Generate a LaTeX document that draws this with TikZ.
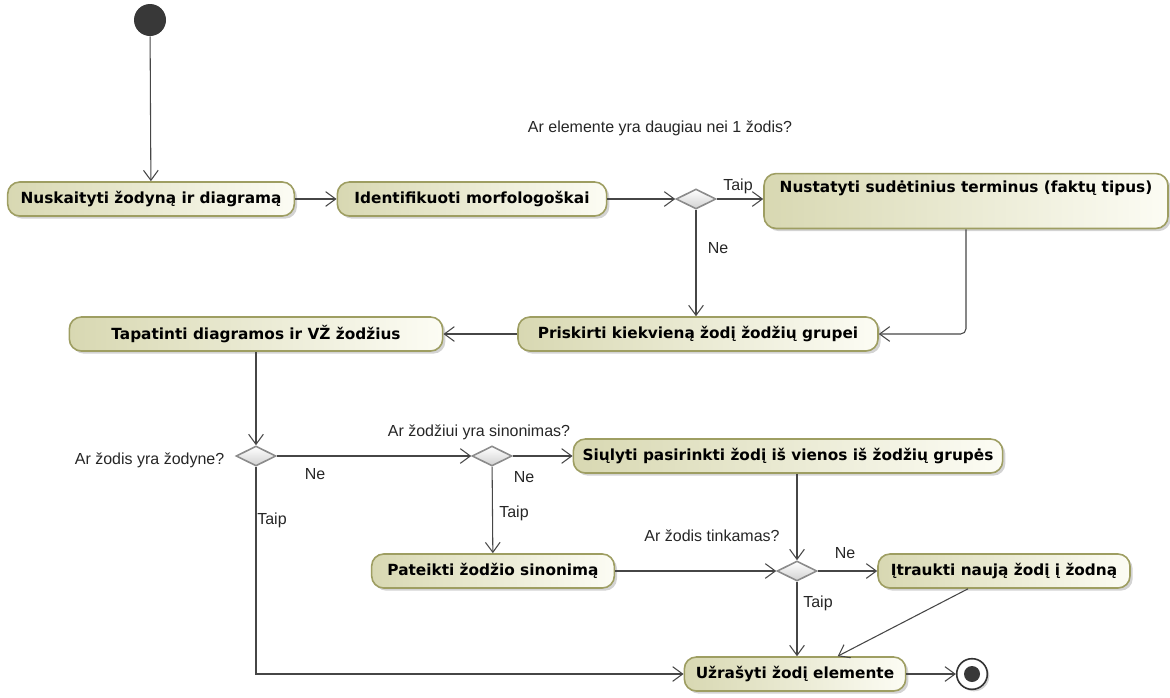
\documentclass[tikz,border=0pt]{standalone}
\usepackage{fontspec}
\setmainfont{Liberation Sans}
\newfontfamily\actfont{DejaVu Sans}
\usetikzlibrary{arrows.meta,shapes.geometric,shadows}

\definecolor{actleft}{RGB}{216,216,178}
\definecolor{actright}{RGB}{252,252,244}
\definecolor{actborder}{RGB}{158,158,98}
\definecolor{flowline}{RGB}{70,70,70}
\definecolor{dmborder}{RGB}{140,140,140}

\tikzset{
  action/.style={draw=actborder, line width=1.2pt, rounded corners=9pt,
    left color=actleft, right color=actright, minimum height=25.5pt,
    font=\actfont\fontsize{11.5pt}{13pt}\selectfont\bfseries,
    drop shadow={shadow xshift=2pt, shadow yshift=-2pt, opacity=.35}},
  decision/.style={diamond, draw=dmborder, line width=1.2pt, inner sep=0pt,
    minimum width=30pt, minimum height=15pt, top color=white, bottom color=black!18},
  flow/.style={draw=flowline, line width=.8pt,
    -{Straight Barb[length=7.5pt,width=11pt]}},
  lbl/.style={font=\fontsize{12pt}{14pt}\selectfont, text=black!85}
}

\begin{document}
\begin{tikzpicture}[x=0.75pt, y=-0.75pt]
  \useasboundingbox (0,0) rectangle (1170,697);

  \node[circle, fill=black!78, minimum size=24pt, inner sep=0pt] (start) at (150,20) {};

  \node[action, minimum width=215pt] (a1) at (151,199) {Nuskaityti žodyną ir diagramą};
  \node[action, minimum width=202pt] (a2) at (472,199) {Identifikuoti morfologoškai};
  \node[decision] (d1) at (696,199) {};
  \node[action, minimum width=303pt, minimum height=40.5pt,
        text height=10.5pt, text depth=24pt] (a3) at (966,201) {Nustatyti sudėtinius terminus (faktų tipus)};
  \node[action, minimum width=270pt] (a4) at (698,334) {Priskirti kiekvieną žodį žodžių grupei};
  \node[action, minimum width=280pt] (a5) at (256,334) {Tapatinti diagramos ir VŽ žodžius};
  \node[decision] (d2) at (256,456) {};
  \node[decision] (d3) at (492,456) {};
  \node[action, minimum width=322pt] (a6) at (788,456) {Siųlyti pasirinkti žodį iš vienos iš žodžių grupės};
  \node[action, minimum width=182pt] (a7) at (493,571) {Pateikti žodžio sinonimą};
  \node[decision] (d4) at (797,571) {};
  \node[action, minimum width=189pt] (a8) at (1004,571) {Įtraukti naują žodį į žodną};
  \node[action, minimum width=166pt] (a9) at (795,674) {Užrašyti žodį elemente};

  \node[circle, draw=black!80, line width=1.2pt, fill=white, minimum size=23pt, inner sep=0pt,
        drop shadow={shadow xshift=1.5pt, shadow yshift=-1.5pt, opacity=.35}] (stop) at (972,674) {};
  \fill[black!78] (stop) circle (6pt);

  \draw[flow] (start) -- (a1);
  \draw[flow] (a1) -- (a2);
  \draw[flow] (a2) -- (d1);
  \draw[flow] (d1) -- (a3.west |- d1);
  \draw[flow] (d1.south) -- (d1.south |- a4.north);
  \draw[flow, rounded corners=4pt] (a3.south) |- (a4.east);
  \draw[flow] (a4) -- (a5);
  \draw[flow] (a5) -- (d2);
  \draw[flow] (d2) -- (d3);
  \draw[flow] (d3) -- (a6);
  \draw[flow] (d3) -- (a7);
  \draw[flow] (d4.north |- a6.south) -- (d4.north);
  \draw[flow] (a7) -- (d4);
  \draw[flow] (d4) -- (a8);
  \draw[flow] (d4.south) -- (d4.south |- a9.north);
  \draw[flow] ([xshift=-27pt]a8.south) -- ([xshift=32pt]a9.north);
  \draw[flow] (d2.south) |- (a9.west);
  \draw[flow] (a9) -- (stop);

  \node[lbl] (q1) at (660,128) {Ar elemente yra daugiau nei 1 žodis?};
  \node[lbl] (y1) at (738,186) {Taip};
  \node[lbl] (n1) at (718,248) {Ne};
  \node[lbl, anchor=east] (q2) at (229,460) {Ar žodis yra žodyne?};
  \node[lbl] (n2) at (315,474) {Ne};
  \node[lbl] (y2) at (272,520) {Taip};
  \node[lbl] (q3) at (479,432) {Ar žodžiui yra sinonimas?};
  \node[lbl] (n3) at (524,477) {Ne};
  \node[lbl] (y3) at (514,513) {Taip};
  \node[lbl] (q4) at (712,536) {Ar žodis tinkamas?};
  \node[lbl] (n4) at (845,553) {Ne};
  \node[lbl] (y4) at (818,603) {Taip};
\end{tikzpicture}
\end{document}
